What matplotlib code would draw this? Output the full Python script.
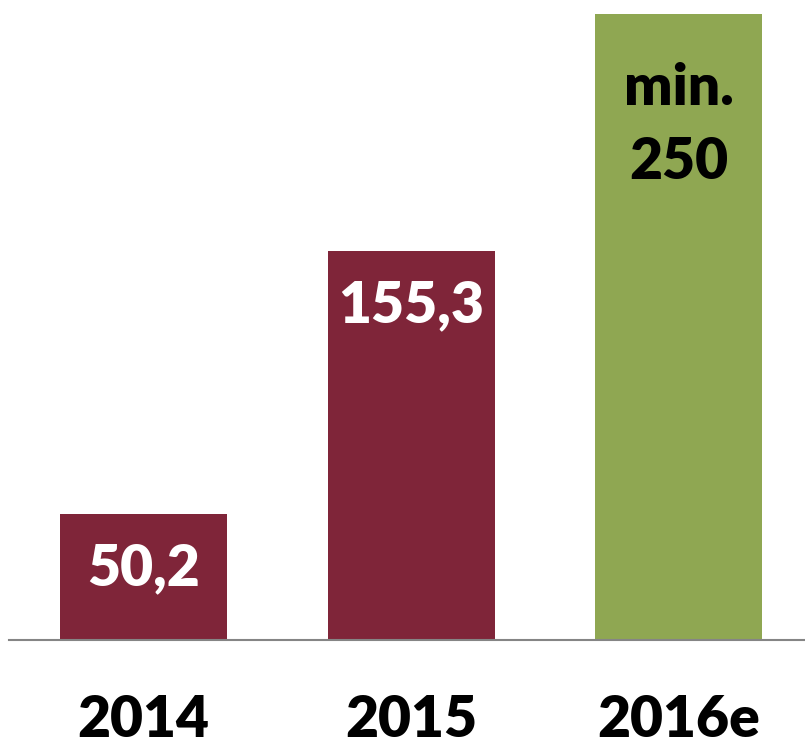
import matplotlib
matplotlib.use('Agg')
import matplotlib.pyplot as plt

plt.rcParams['font.family'] = ['Lato', 'DejaVu Sans']

years = ['2014', '2015', '2016e']
values = [50.2, 155.3, 250]
labels = ['50,2', '155,3', 'min.\n250']
colors = ['#7f2539', '#7f2539', '#8fa752']
label_colors = ['white', 'white', 'black']

fig = plt.figure(figsize=(8.05, 7.46), dpi=100)
ax = fig.add_axes([0, 106 / 746, 1, 640 / 746])

x = list(range(len(years)))
bars = ax.bar(x, values, width=0.624, color=colors)

for xi, v, lab, c in zip(x, values, labels, label_colors):
    if '\n' in lab:
        ax.annotate(lab, (xi, v), xytext=(0, -35), textcoords='offset points',
                    ha='center', va='top', fontsize=41, fontweight='heavy',
                    color=c, linespacing=1.5)
    else:
        ax.annotate(lab, (xi, v), xytext=(0, -39), textcoords='offset points',
                    ha='center', va='center', fontsize=41, fontweight='heavy',
                    color=c)

ax.set_xlim(-0.536, 2.471)
ax.set_ylim(0, 255.5)
ax.set_xticks(x)
ax.set_xticklabels(years, fontsize=41, fontweight='heavy')
ax.tick_params(axis='x', length=0, pad=39)
ax.set_yticks([])
for s in ['top', 'right', 'left']:
    ax.spines[s].set_visible(False)
ax.spines['bottom'].set_color('#858585')
ax.spines['bottom'].set_linewidth(1.5)
ax.spines['bottom'].set_bounds(-0.503, 2.471)

fig.savefig('out.png', dpi=100)
